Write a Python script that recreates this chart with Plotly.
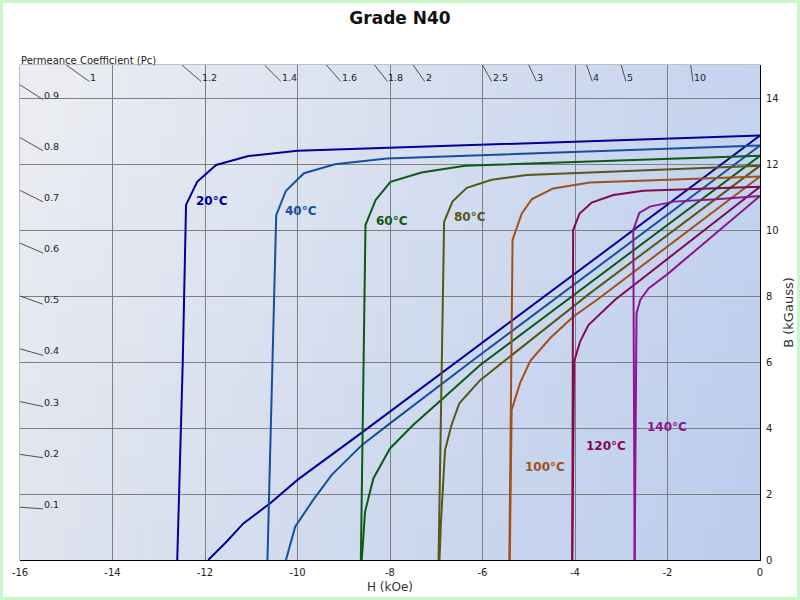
import plotly.graph_objects as go

# ---------------- data ----------------
temps = ["20°C", "40°C", "60°C", "80°C", "100°C", "120°C", "140°C"]
colors = ["#00009a", "#14509e", "#0c5a14", "#575716", "#a0501a", "#820a50", "#8c168c"]

# intrinsic (flat-top) curves
J_H = {
    "20°C": [0, -10.0, -11.06, -11.76, -12.17, -12.41, -12.48, -12.6],
    "40°C": [0, -6.49, -8.07, -9.19, -9.86, -10.25, -10.46, -10.65],
    "60°C": [0, -3.68, -6.38, -7.32, -7.99, -8.31, -8.53, -8.63],
    "80°C": [0, -3.68, -5.04, -5.8, -6.34, -6.65, -6.83, -6.95],
    "100°C": [0, -3.68, -4.47, -4.93, -5.15, -5.35, -5.42],
    "120°C": [0, -2.52, -3.17, -3.64, -3.9, -4.04, -4.06],
    "140°C": [0, -0.94, -1.87, -2.38, -2.61, -2.74, -2.71],
}
J_B = {
    "20°C": [12.86, 12.40, 12.24, 11.97, 11.46, 10.76, 6.06, 0],
    "40°C": [12.56, 12.25, 12.17, 11.99, 11.72, 11.19, 10.45, 0],
    "60°C": [12.25, 12.07, 11.95, 11.74, 11.46, 10.91, 10.15, 0],
    "80°C": [11.95, 11.74, 11.67, 11.52, 11.28, 10.86, 10.25, 0],
    "100°C": [11.62, 11.44, 11.26, 10.94, 10.5, 9.70, 0],
    "120°C": [11.31, 11.19, 11.06, 10.83, 10.5, 10.0, 0],
    "140°C": [11.03, 10.93, 10.86, 10.71, 10.52, 10.0, 0],
}
# normal (diagonal) curves
N_H = {
    "20°C": [0, -6.49, -8.58, -9.98, -10.59, -11.17, -11.53, -11.93],
    "40°C": [0, -6.2, -8.0, -8.61, -9.26, -9.66, -10.05, -10.25],
    "60°C": [0, -6.05, -6.85, -7.5, -8.0, -8.36, -8.54, -8.61],
    "80°C": [0, -3.68, -6.05, -6.5, -6.67, -6.81, -6.9, -6.93],
    "100°C": [0, -3.53, -4.04, -4.54, -4.97, -5.19, -5.37, -5.41],
    "120°C": [0, -3.14, -3.71, -3.89, -4.02, -4.06],
    "140°C": [0, -1.3, -2.02, -2.41, -2.59, -2.67, -2.71],
}
N_B = {
    "20°C": [12.86, 6.06, 3.89, 2.45, 1.72, 1.11, 0.56, 0],
    "40°C": [12.56, 6.06, 4.14, 3.48, 2.58, 1.82, 1.01, 0],
    "60°C": [12.25, 5.91, 4.9, 4.09, 3.38, 2.47, 1.46, 0],
    "80°C": [11.95, 8.08, 5.45, 4.75, 4.09, 3.33, 1.11, 0],
    "100°C": [11.62, 7.88, 7.37, 6.72, 6.03, 5.35, 4.55, 0],
    "120°C": [11.31, 7.88, 7.12, 6.62, 6.01, 0],
    "140°C": [11.03, 9.5, 8.64, 8.23, 7.88, 7.47, 0],
}
# label positions (H, B)
label_H = [-11.85, -9.92, -7.96, -6.27, -4.65, -3.33, -2.01]
label_B = [10.88, 10.58, 10.27, 10.39, 2.82, 3.45, 4.03]

pc_top = [1, 1.2, 1.4, 1.6, 1.8, 2, 2.5, 3, 4, 5, 10]
pc_left = [0.1, 0.2, 0.3, 0.4, 0.5, 0.6, 0.7, 0.8, 0.9]
pc_top_labels = ["1", "1.2", "1.4", "1.6", "1.8", "2", "2.5", "3", "4", "5", "10"]
pc_left_labels = ["0.1", "0.2", "0.3", "0.4", "0.5", "0.6", "0.7", "0.8", "0.9"]

x_ticks = [-16, -14, -12, -10, -8, -6, -4, -2, 0]
y_ticks = [0, 2, 4, 6, 8, 10, 12, 14]
X_MIN, X_MAX, Y_MIN, Y_MAX = -16, 0, 0, 15

FONT = "DejaVu Sans"

fig = go.Figure()

# ---------------- background gradient ----------------
shapes = []
nx, ny = 48, 14
TL = (237, 238, 242); TR = (197, 211, 239)
BL = (223, 228, 238); BR = (187, 204, 238)
def mix(a, b, t):
    return tuple(a[i] + (b[i] - a[i]) * t for i in range(3))
for i in range(nx):
    for j in range(ny):
        u = (i + 0.5) / nx
        v = (j + 0.5) / ny
        c = mix(mix(TL, TR, u), mix(BL, BR, u), v)
        x0 = X_MIN + (X_MAX - X_MIN) * i / nx
        x1 = X_MIN + (X_MAX - X_MIN) * (i + 1.05) / nx
        y1 = Y_MAX - (Y_MAX - Y_MIN) * j / ny
        y0 = Y_MAX - (Y_MAX - Y_MIN) * (j + 1.05) / ny
        shapes.append(dict(type="rect", xref="x", yref="y", x0=x0, x1=min(x1, X_MAX),
                           y0=max(y0, Y_MIN), y1=y1, layer="below", line=dict(width=0),
                           fillcolor="rgb(%d,%d,%d)" % tuple(round(k) for k in c)))
# plot frame (gray top/left)
shapes.append(dict(type="rect", xref="x domain", yref="y domain", x0=0, x1=1, y0=0, y1=1,
                   layer="below", line=dict(color="#7f7f7f", width=1)))
# outer light green border
W, H = 800, 600
ml, mr, mt, mb = 20, 40, 65, 40
pw, ph = W - ml - mr, H - mt - mb
shapes.append(dict(type="rect", xref="paper", yref="paper",
                   x0=(-ml + 1.5) / pw, x1=(W - ml - 1.5) / pw,
                   y0=(-mb + 1.5) / ph, y1=(H - mb - 1.5) / ph,
                   line=dict(color="#c8f7c8", width=3), layer="below"))

# ---------------- permeance coefficient ticks ----------------
annotations = []
for pc, lab in zip(pc_top, pc_top_labels):
    xs = [-Y_MAX / pc, -(Y_MAX - 0.5) / pc]
    ys = [Y_MAX, Y_MAX - 0.5]
    fig.add_trace(go.Scatter(x=xs, y=ys, mode="lines", line=dict(color="#505050", width=1),
                             hoverinfo="skip", showlegend=False))
    annotations.append(dict(x=xs[1], y=ys[1], text=lab, showarrow=False, xanchor="left",
                            yanchor="bottom", xshift=-1, yshift=-3,
                            font=dict(family=FONT, size=9.5, color="#222")))
for pc, lab in zip(pc_left, pc_left_labels):
    xs = [X_MIN, X_MIN + 0.5]
    ys = [-X_MIN * pc, -(X_MIN + 0.5) * pc]
    fig.add_trace(go.Scatter(x=xs, y=ys, mode="lines", line=dict(color="#505050", width=1),
                             hoverinfo="skip", showlegend=False))
    annotations.append(dict(x=xs[1], y=ys[1], text=lab, showarrow=False, xanchor="left",
                            yanchor="bottom", xshift=-1, yshift=-3,
                            font=dict(family=FONT, size=9.5, color="#222")))

# ---------------- curves ----------------
for t, col in zip(temps, colors):
    fig.add_trace(go.Scatter(x=N_H[t], y=N_B[t], mode="lines", line=dict(color=col, width=2),
                             name=t + " B", showlegend=False))
    fig.add_trace(go.Scatter(x=J_H[t], y=J_B[t], mode="lines", line=dict(color=col, width=2),
                             name=t + " J", showlegend=False))

for t, col, lx, ly in zip(temps, colors, label_H, label_B):
    annotations.append(dict(x=lx, y=ly, text="<b>%s</b>" % t, showarrow=False,
                            font=dict(family=FONT, size=12, color=col)))

annotations.append(dict(xref="paper", yref="paper", x=0, y=1, xanchor="left", yanchor="bottom",
                        text="Permeance Coefficient (Pc)", showarrow=False, xshift=-1, yshift=-3,
                        font=dict(family=FONT, size=10, color="#222")))

fig.update_layout(
    width=W, height=H, autosize=False,
    margin=dict(l=ml, r=mr, t=mt, b=mb, pad=0),
    paper_bgcolor="white", plot_bgcolor="#dde3ee",
    title=dict(text="<b>Grade N40</b>", x=0.5, xanchor="center", y=1 - 18 / 600,
               yanchor="middle", yref="container",
               font=dict(family=FONT, size=17, color="#111")),
    shapes=shapes, annotations=annotations,
    xaxis=dict(range=[X_MIN, X_MAX], tickvals=x_ticks, ticktext=[str(v) for v in x_ticks],
               showgrid=True, gridcolor="#7f7f7f", gridwidth=1, zeroline=False,
               showline=True, linecolor="black", linewidth=1,
               ticks="outside", ticklen=3, tickcolor="rgba(0,0,0,0)",
               tickfont=dict(family=FONT, size=10, color="#222"),
               title=dict(text="H (kOe)", font=dict(family=FONT, size=12, color="#333"), standoff=5),
               automargin=False),
    yaxis=dict(range=[Y_MIN, Y_MAX], tickvals=y_ticks, side="right",
               showgrid=True, gridcolor="#7f7f7f", gridwidth=1, zeroline=False,
               showline=True, linecolor="black", linewidth=1,
               ticks="outside", ticklen=3, tickcolor="rgba(0,0,0,0)",
               tickfont=dict(family=FONT, size=10, color="#222"),
               title=dict(text="B (kGauss)", font=dict(family=FONT, size=13, color="#333"), standoff=6),
               automargin=False),
)

fig.write_html("out.html")
